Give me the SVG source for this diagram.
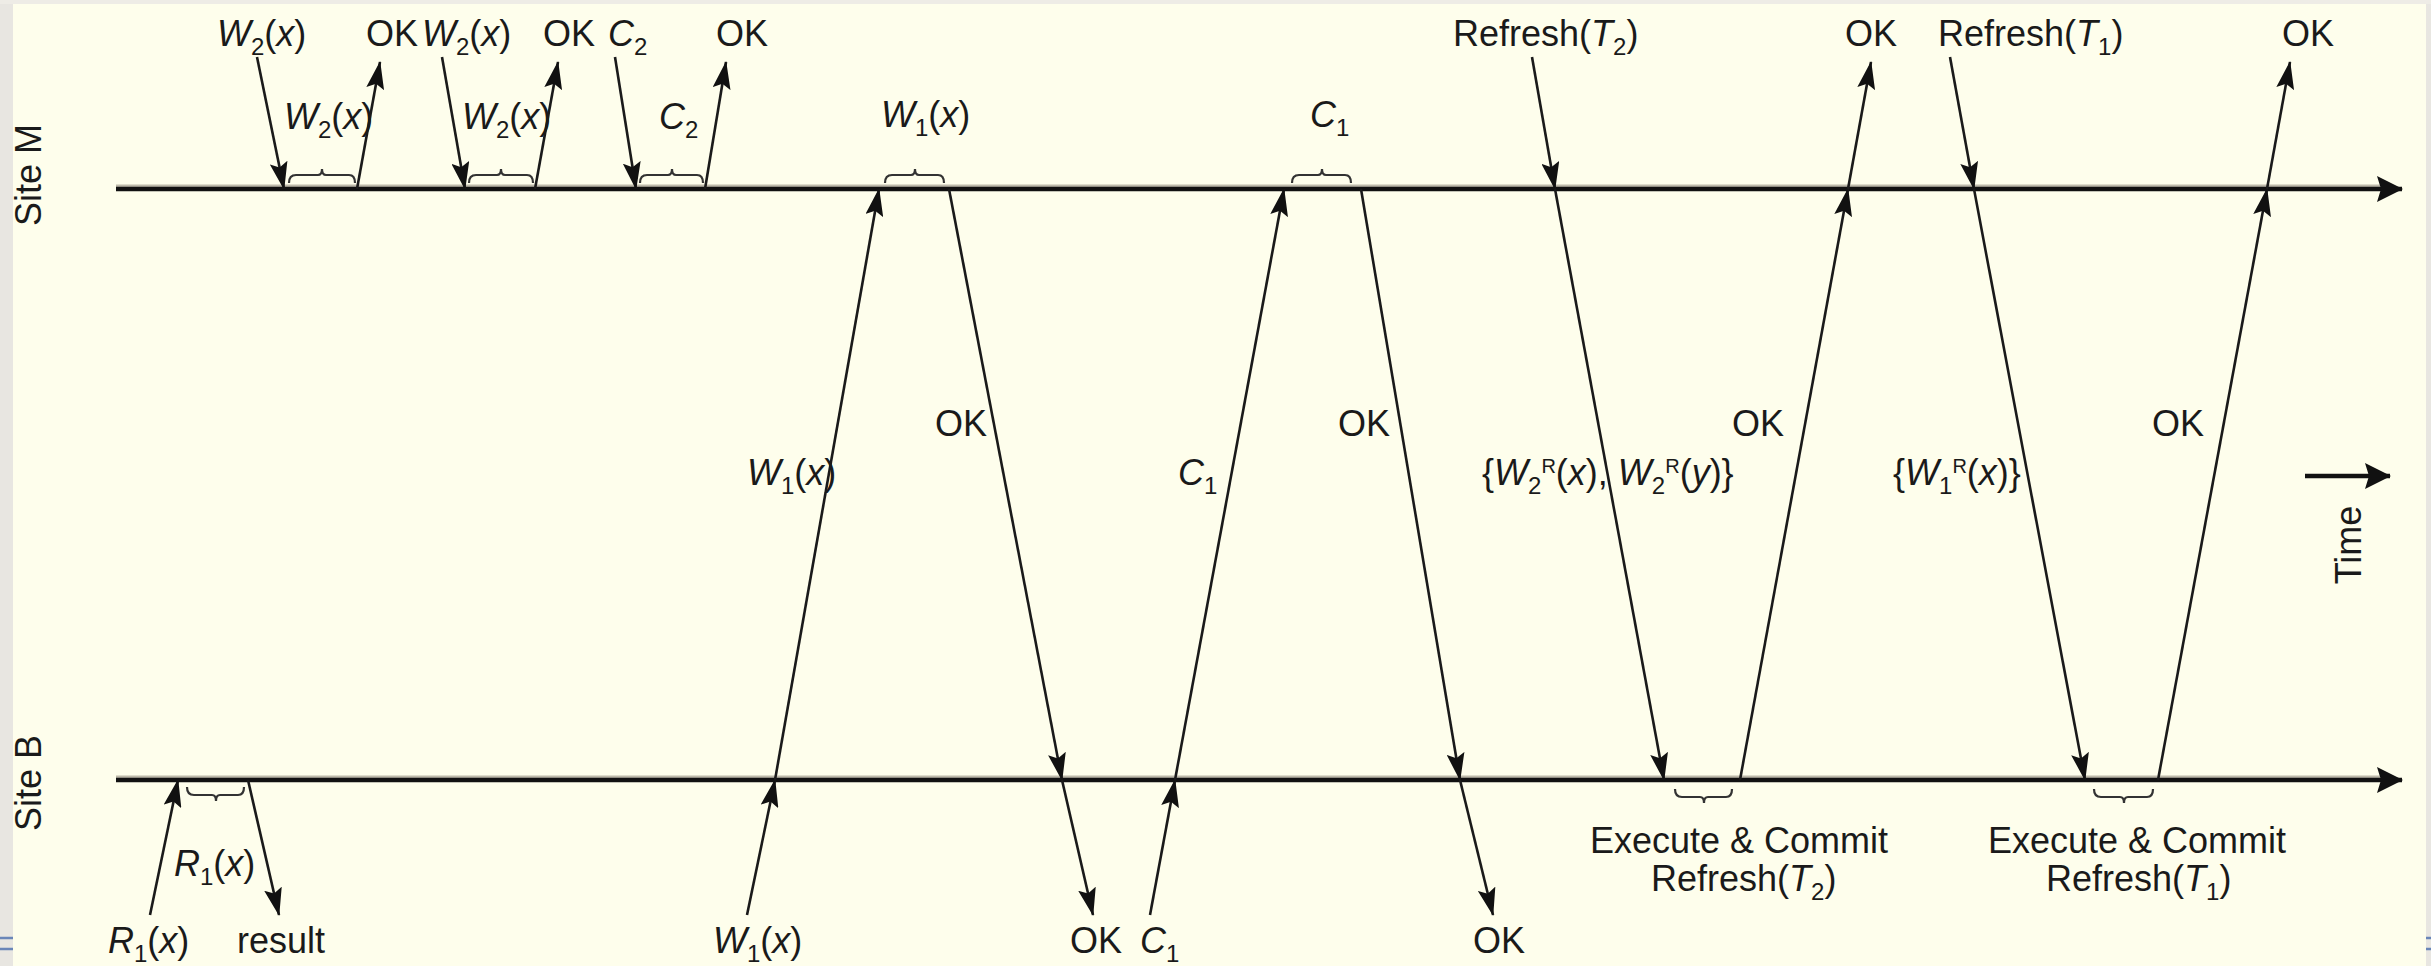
<svg xmlns="http://www.w3.org/2000/svg" width="2431" height="966" viewBox="0 0 2431 966">
<defs>
<marker id="ah" markerUnits="userSpaceOnUse" viewBox="0 0 28 18" refX="27" refY="9" markerWidth="28" markerHeight="18" orient="auto">
<path d="M0,0 L28,9 L0,18 L5,9 z" fill="#111"/>
</marker>
<marker id="ahBig" markerUnits="userSpaceOnUse" viewBox="0 0 26 26" refX="25" refY="13" markerWidth="26" markerHeight="26" orient="auto">
<path d="M0,0 L26,13 L0,26 L4,13 z" fill="#111"/>
</marker>
<style>
text{font-family:"Liberation Sans",Arial,sans-serif;font-size:36px;fill:#1a1a1a}
.i{font-style:italic}
.sub{font-size:24px}
.sup{font-size:20px}
.msg{stroke:#1a1a1a;stroke-width:2.6;fill:none;marker-end:url(#ah)}
.axis{stroke:#111;stroke-width:4.5;fill:none;marker-end:url(#ahBig)}
.shadow{stroke:#bdb9aa;stroke-width:3;fill:none}
.brace{stroke:#333;stroke-width:2.2;fill:none}
.mid{text-anchor:middle}
</style>
</defs>
<rect x="0" y="0" width="2431" height="966" fill="#fefeec"/>
<rect x="0" y="0" width="13" height="966" fill="#e8e6e1"/>
<rect x="2426" y="0" width="5" height="966" fill="#e8e6e1"/>
<rect x="0" y="0" width="2431" height="4" fill="#eeece6"/>
<line x1="0" y1="938" x2="13" y2="938" stroke="#6a86b8" stroke-width="2.5"/>
<line x1="0" y1="949" x2="13" y2="949" stroke="#6a86b8" stroke-width="2.5"/>
<line x1="2426" y1="938" x2="2431" y2="938" stroke="#6a86b8" stroke-width="2.5"/>
<line x1="2426" y1="949" x2="2431" y2="949" stroke="#6a86b8" stroke-width="2.5"/>

<g id="siteM">
<line class="shadow" x1="116" y1="186" x2="2380" y2="186"/>
<line class="axis" x1="116" y1="189" x2="2402" y2="189"/>
<text class="mid" transform="translate(41,175) rotate(-90)">Site M</text>
</g>
<g id="siteB">
<line class="shadow" x1="116" y1="777" x2="2380" y2="777"/>
<line class="axis" x1="116" y1="780" x2="2402" y2="780"/>
<text class="mid" transform="translate(41,783) rotate(-90)">Site B</text>
</g>
<g id="time">
<line class="axis" x1="2305" y1="476" x2="2390" y2="476" stroke-width="3.5"/>
<text class="mid" transform="translate(2361,545) rotate(-90)">Time</text>
</g>

<g id="connectors">
<line class="msg" x1="257" y1="57" x2="284" y2="189"/>
<line class="msg" x1="357" y1="189" x2="380" y2="62"/>
<line class="msg" x1="442" y1="57" x2="465" y2="189"/>
<line class="msg" x1="535" y1="189" x2="558" y2="62"/>
<line class="msg" x1="615" y1="57" x2="636" y2="189"/>
<line class="msg" x1="705" y1="189" x2="726" y2="62"/>

<line class="msg" x1="747" y1="915" x2="775" y2="780"/>
<line class="msg" x1="775" y1="780" x2="879" y2="189"/>
<line class="msg" x1="949" y1="189" x2="1062" y2="780"/>
<line class="msg" x1="1062" y1="780" x2="1093" y2="915"/>

<line class="msg" x1="1150" y1="915" x2="1175" y2="780"/>
<line class="msg" x1="1175" y1="780" x2="1284" y2="189"/>
<line class="msg" x1="1361" y1="189" x2="1460" y2="780"/>
<line class="msg" x1="1460" y1="780" x2="1493" y2="915"/>

<line class="msg" x1="1532" y1="57" x2="1555" y2="189"/>
<line class="msg" x1="1555" y1="189" x2="1664" y2="780"/>
<line class="msg" x1="1740" y1="780" x2="1848" y2="189"/>
<line class="msg" x1="1848" y1="189" x2="1871" y2="62"/>

<line class="msg" x1="1950" y1="57" x2="1974" y2="189"/>
<line class="msg" x1="1974" y1="189" x2="2085" y2="780"/>
<line class="msg" x1="2158" y1="780" x2="2267" y2="189"/>
<line class="msg" x1="2267" y1="189" x2="2290" y2="62"/>

<line class="msg" x1="150" y1="915" x2="178" y2="780"/>
<line class="msg" x1="248" y1="780" x2="279" y2="915"/>
</g>

<g id="braces">
<path class="brace" d="M289,183 Q289,175 296,175 L318,175 Q322,175 322,169 Q322,175 326,175 L349,175 Q355,175 355,183"/>
<path class="brace" d="M469,183 Q469,175 476,175 L497,175 Q501,175 501,169 Q501,175 505,175 L527,175 Q533,175 533,183"/>
<path class="brace" d="M640,183 Q640,175 647,175 L668,175 Q672,175 672,169 Q672,175 676,175 L697,175 Q703,175 703,183"/>
<path class="brace" d="M885,183 Q885,175 892,175 L911,175 Q915,175 915,169 Q915,175 919,175 L938,175 Q944,175 944,183"/>
<path class="brace" d="M1292,183 Q1292,175 1299,175 L1318,175 Q1322,175 1322,169 Q1322,175 1326,175 L1345,175 Q1351,175 1351,183"/>
<path class="brace" d="M187,787 Q187,795 194,795 L212,795 Q216,795 216,801 Q216,795 220,795 L238,795 Q244,795 244,787"/>
<path class="brace" d="M1675,789 Q1675,797 1682,797 L1700,797 Q1704,797 1704,803 Q1704,797 1708,797 L1726,797 Q1732,797 1732,789"/>
<path class="brace" d="M2094,789 Q2094,797 2101,797 L2120,797 Q2124,797 2124,803 Q2124,797 2128,797 L2147,797 Q2153,797 2153,789"/>
</g>

<g id="labels-top">
<text x="217" y="46"><tspan class="i">W</tspan><tspan class="sub" dy="9">2</tspan><tspan dy="-9">(</tspan><tspan class="i">x</tspan>)</text>
<text x="366" y="46">OK</text>
<text x="422" y="46"><tspan class="i">W</tspan><tspan class="sub" dy="9">2</tspan><tspan dy="-9">(</tspan><tspan class="i">x</tspan>)</text>
<text x="543" y="46">OK</text>
<text x="608" y="46"><tspan class="i">C</tspan><tspan class="sub" dy="9">2</tspan></text>
<text x="716" y="46">OK</text>
<text x="1453" y="46">Refresh(<tspan class="i">T</tspan><tspan class="sub" dy="9">2</tspan><tspan dy="-9">)</tspan></text>
<text x="1845" y="46">OK</text>
<text x="1938" y="46">Refresh(<tspan class="i">T</tspan><tspan class="sub" dy="9">1</tspan><tspan dy="-9">)</tspan></text>
<text x="2282" y="46">OK</text>
</g>

<g id="labels-m">
<text x="284" y="129"><tspan class="i">W</tspan><tspan class="sub" dy="9">2</tspan><tspan dy="-9">(</tspan><tspan class="i">x</tspan>)</text>
<text x="462" y="129"><tspan class="i">W</tspan><tspan class="sub" dy="9">2</tspan><tspan dy="-9">(</tspan><tspan class="i">x</tspan>)</text>
<text x="659" y="129"><tspan class="i">C</tspan><tspan class="sub" dy="9">2</tspan></text>
<text x="881" y="127"><tspan class="i">W</tspan><tspan class="sub" dy="9">1</tspan><tspan dy="-9">(</tspan><tspan class="i">x</tspan>)</text>
<text x="1310" y="127"><tspan class="i">C</tspan><tspan class="sub" dy="9">1</tspan></text>
</g>

<g id="labels-mid">
<text x="747" y="485"><tspan class="i">W</tspan><tspan class="sub" dy="9">1</tspan><tspan dy="-9">(</tspan><tspan class="i">x</tspan>)</text>
<text x="935" y="436">OK</text>
<text x="1178" y="485"><tspan class="i">C</tspan><tspan class="sub" dy="9">1</tspan></text>
<text x="1338" y="436">OK</text>
<text x="1482" y="485">{<tspan class="i">W</tspan><tspan class="sub" dy="9">2</tspan><tspan class="sup" dy="-21">R</tspan><tspan dy="12">(</tspan><tspan class="i">x</tspan>), <tspan class="i">W</tspan><tspan class="sub" dy="9">2</tspan><tspan class="sup" dy="-21">R</tspan><tspan dy="12">(</tspan><tspan class="i">y</tspan>)}</text>
<text x="1732" y="436">OK</text>
<text x="1893" y="485">{<tspan class="i">W</tspan><tspan class="sub" dy="9">1</tspan><tspan class="sup" dy="-21">R</tspan><tspan dy="12">(</tspan><tspan class="i">x</tspan>)}</text>
<text x="2152" y="436">OK</text>
</g>

<g id="labels-b">
<text x="174" y="876"><tspan class="i">R</tspan><tspan class="sub" dy="9">1</tspan><tspan dy="-9">(</tspan><tspan class="i">x</tspan>)</text>
<text class="mid" x="1739" y="853">Execute &amp; Commit</text>
<text x="1651" y="891">Refresh(<tspan class="i">T</tspan><tspan class="sub" dy="9">2</tspan><tspan dy="-9">)</tspan></text>
<text class="mid" x="2137" y="853">Execute &amp; Commit</text>
<text x="2046" y="891">Refresh(<tspan class="i">T</tspan><tspan class="sub" dy="9">1</tspan><tspan dy="-9">)</tspan></text>
</g>

<g id="labels-bottom">
<text x="108" y="953"><tspan class="i">R</tspan><tspan class="sub" dy="9">1</tspan><tspan dy="-9">(</tspan><tspan class="i">x</tspan>)</text>
<text x="237" y="953">result</text>
<text x="713" y="953"><tspan class="i">W</tspan><tspan class="sub" dy="9">1</tspan><tspan dy="-9">(</tspan><tspan class="i">x</tspan>)</text>
<text x="1070" y="953">OK</text>
<text x="1140" y="953"><tspan class="i">C</tspan><tspan class="sub" dy="9">1</tspan></text>
<text x="1473" y="953">OK</text>
</g>
</svg>
